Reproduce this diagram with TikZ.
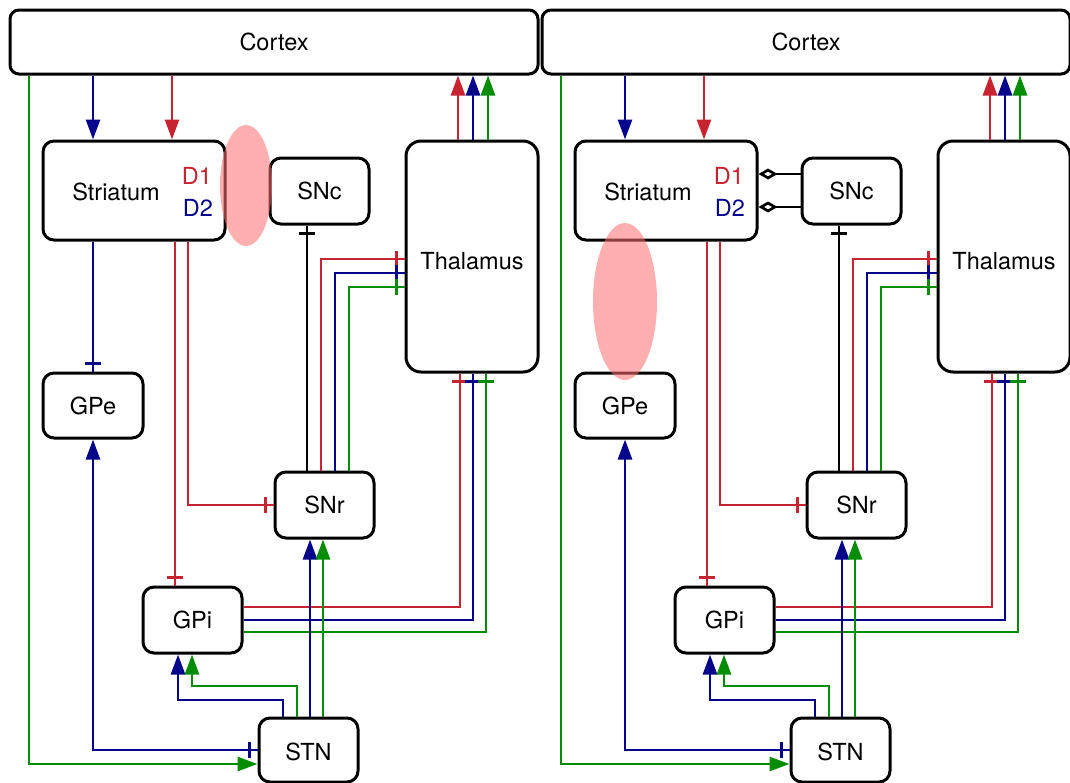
\documentclass[tikz,border=0pt]{standalone}
\usepackage{fontspec}
\setmainfont{TeX Gyre Heros}
\usetikzlibrary{arrows.meta,decorations.markings}
\definecolor{cred}{RGB}{200,35,48}
\definecolor{cblue}{RGB}{5,5,140}
\definecolor{cgreen}{RGB}{5,140,5}
\definecolor{hlpink}{RGB}{255,110,110}
\tikzset{
  box/.style={draw=black, line width=3pt, rounded corners=11pt, inner sep=0pt, fill=white,
    font=\fontsize{23.5}{28}\selectfont},
  lab/.style={inner sep=0pt, font=\fontsize{23.5}{28}\selectfont},
  wire/.style={line width=2.7pt},
  ex/.style={-{Triangle[length=20pt,width=14pt]}},
  exs/.style={{Triangle[length=20pt,width=14pt]}-},
  inh/.style={postaction={decorate,decoration={markings,
    mark=at position -8pt with {\draw[arrows=-,line width=2.7pt,#1] (0,-8pt)--(0,8pt);}}}},
  hl/.style={fill=hlpink, fill opacity=0.55},
}
\newcommand\bgpanel{%
  \node[box, rounded corners=9pt, minimum width=528pt, minimum height=64pt] (cortex) at (274,42) {Cortex};
  \node[box, minimum width=182pt, minimum height=99pt] (striatum) at (134,190.5) {};
  \node[lab] (striatumtext) at (116,192) {Striatum};
  \node[lab, text=cred] (dA) at (197,176) {D1};
  \node[lab, text=cblue] (dB) at (198,208) {D2};
  \node[box, minimum width=99pt, minimum height=66pt] (snc) at (319.5,191) {SNc};
  \node[box, rounded corners=15pt, minimum width=132pt, minimum height=231pt] (thal) at (472,256.5) {};
  \node[lab] (thaltext) at (472,261) {Thalamus};
  \node[box, minimum width=100pt, minimum height=65pt] (gpe) at (93,405.5) {GPe};
  \node[box, minimum width=99pt, minimum height=66pt] (snr) at (324.5,505) {SNr};
  \node[box, minimum width=99pt, minimum height=66pt] (gpi) at (192.5,620) {GPi};
  \node[box, minimum width=99pt, minimum height=64pt] (stn) at (308.5,750) {};
  \node[lab] (stntext) at (308.5,752) {STN};
  % cortex -> striatum
  \draw[wire,cblue,ex] (93,0 |- cortex.south) -- (93,0 |- striatum.north);
  \draw[wire,cred,ex] (172,0 |- cortex.south) -- (172,0 |- striatum.north);
  % cortex -> STN
  \draw[wire,cgreen,ex] (29,0 |- cortex.south) -- (29,764) -- (stn.west |- 0,764);
  % striatum -> SNr, GPi
  \draw[wire,cred,inh=cred] (188,0 |- striatum.south) -- (188,0 |- snr.west) -- (snr.west);
  \draw[wire,cred,inh=cred] (175,0 |- striatum.south) -- (175,0 |- gpi.north);
  % SNr -| SNc
  \draw[wire,black,inh=black] (307,0 |- snr.north) -- (307,0 |- snc.south);
  % SNr -> thalamus
  \draw[wire,cred,inh=cred] (321,0 |- snr.north) -- (321,259) -- (thal.west |- 0,259);
  \draw[wire,cblue,inh=cblue] (335,0 |- snr.north) -- (335,273) -- (thal.west |- 0,273);
  \draw[wire,cgreen,inh=cgreen] (349,0 |- snr.north) -- (349,287) -- (thal.west |- 0,287);
  % thalamus -> cortex
  \draw[wire,cred,ex] (458,0 |- thal.north) -- (458,0 |- cortex.south);
  \draw[wire,cblue,ex] (473,0 |- thal.north) -- (473,0 |- cortex.south);
  \draw[wire,cgreen,ex] (488,0 |- thal.north) -- (488,0 |- cortex.south);
  % GPi -> thalamus
  \draw[wire,cred,inh=cred] (gpi.east |- 0,607) -- (460,607) -- (460,0 |- thal.south);
  \draw[wire,cblue,inh=cblue] (gpi.east |- 0,620) -- (473,620) -- (473,0 |- thal.south);
  \draw[wire,cgreen,inh=cgreen] (gpi.east |- 0,632) -- (486,632) -- (486,0 |- thal.south);
  % STN -> GPi
  \draw[wire,cblue,ex] (283,0 |- stn.north) -- (283,700) -- (178,700) -- (178,0 |- gpi.south);
  \draw[wire,cgreen,ex] (297,0 |- stn.north) -- (297,686) -- (192,686) -- (192,0 |- gpi.south);
  % STN -> SNr
  \draw[wire,cblue,ex] (310,0 |- stn.north) -- (310,0 |- snr.south);
  \draw[wire,cgreen,ex] (323,0 |- stn.north) -- (323,0 |- snr.south);
  % GPe <-> STN
  \draw[wire,cblue,exs,inh=cblue] (gpe.south) -- (93,750) -- (stn.west |- 0,750);
}
\begin{document}
\begin{tikzpicture}[x=1pt,y=-1pt]
\useasboundingbox (0,0) rectangle (1070,782);
\clip (0,0) rectangle (1070,782);
\fill[white] (0,0) rectangle (1070,782);
\begin{scope}[name prefix=L-]
  \bgpanel
  \draw[wire,cblue,inh=cblue] (93,0 |- striatum.south) -- (gpe.north);
  \fill[hl] (246,185.5) ellipse [x radius=26, y radius=60.5];
\end{scope}
\begin{scope}[xshift=532pt, name prefix=R-]
  \bgpanel
  \draw[wire,black,-{Diamond[length=19pt,width=11pt,fill=white]}] (snc.west |- 0,174) -- (striatum.east |- 0,174);
  \draw[wire,black,-{Diamond[length=19pt,width=11pt,fill=white]}] (snc.west |- 0,207) -- (striatum.east |- 0,207);
  \fill[hl] (93,301.5) ellipse [x radius=32, y radius=78.5];
\end{scope}
\end{tikzpicture}
\end{document}
